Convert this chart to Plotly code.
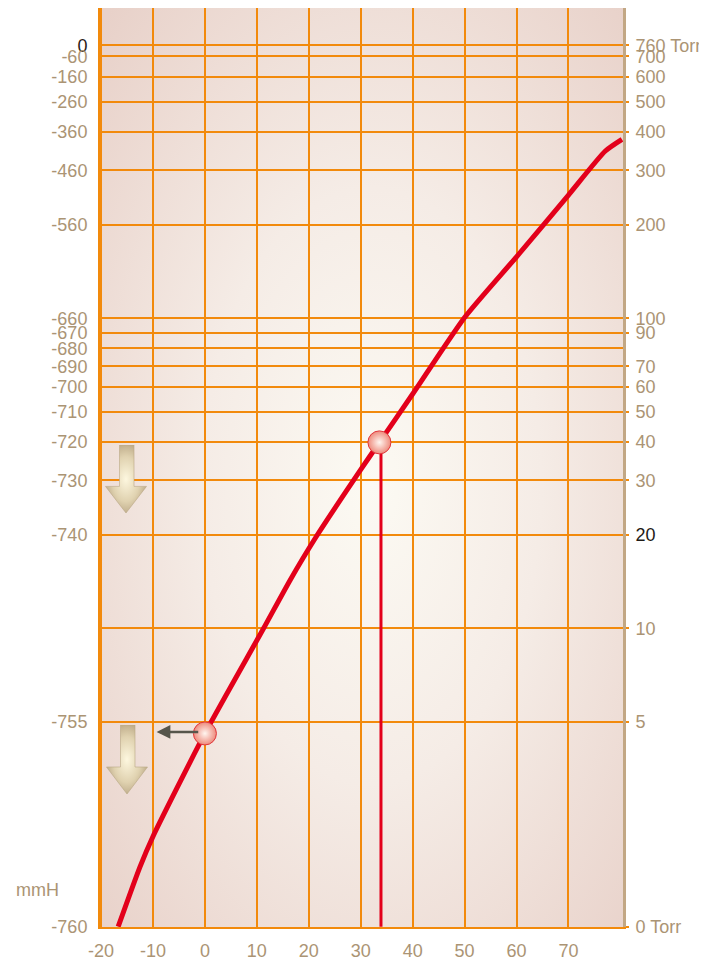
import base64
import math
import plotly.graph_objects as go

# ---------------- data ----------------
temp_c = [-16.7, -12.5, -10.0, 0.0, 11.2, 16.4, 21.3, 30.0, 33.6, 40.0,
          50.0, 60.0, 70.0, 77.1, 80.3]
pressure_torr = [1.09, 1.70, 2.13, 4.58, 9.93, 14.3, 19.6, 32.5, 39.8, 57.0,
                 100.7, 158.0, 250.0, 346.7, 378.0]

marker_temp = [0.0, 33.6]
marker_torr = [4.58, 39.8]

drop_temp = 33.9          # vertical red line down from the 40 Torr point
P_BOTTOM = 1.0888         # pressure value at the bottom edge ("0 Torr")
arrow_torr = 4.63         # small leftward arrow
arrow_from_temp = -1.0
arrow_to_temp = -9.3

x_tick_vals = [-20, -10, 0, 10, 20, 30, 40, 50, 60, 70]
x_tick_text = ["-20", "-10", "0", "10", "20", "30", "40", "50", "60", "70"]

left_tick_vals = [760, 700, 600, 500, 400, 300, 200, 100, 90, 80, 70, 60,
                  50, 40, 30, 20, 5, P_BOTTOM]
left_tick_text = ["<span style='color:#2a2118'>0</span>", "-60", "-160",
                  "-260", "-360", "-460", "-560", "-660", "-670", "-680",
                  "-690", "-700", "-710", "-720", "-730", "-740", "-755",
                  "-760"]

right_tick_vals = [760, 700, 600, 500, 400, 300, 200, 100, 90, 70, 60, 50,
                   40, 30, 20, 10, 5, P_BOTTOM]
right_tick_text = ["760 Torr", "700", "600", "500", "400", "300", "200",
                   "100", "90", "70", "60", "50", "40", "30",
                   "<span style='color:#1e1a16'>20</span>", "10", "5",
                   "0 Torr"]

# ---------------- styles ----------------
ORANGE = "#f28a0c"
TAN = "#ab9474"
RED = "#e3001b"
FONT = "Liberation Sans, Arial, sans-serif"
X_RANGE = [-20.2, 80.5]
Y_RANGE = [0.0364, 3.0013]   # log10 range

# page geometry (the page body adds an 8px offset)
PLOT_L, PLOT_T, PLOT_W, PLOT_H = 100, 8, 523, 919


def px_x(px):
    return (px - PLOT_L) / PLOT_W


def px_y(py):
    return (PLOT_T + PLOT_H - py) / PLOT_H


def svg_uri(svg):
    return "data:image/svg+xml;base64," + base64.b64encode(svg.encode()).decode()


bg_svg = (
    "<svg xmlns='http://www.w3.org/2000/svg' width='523' height='920' "
    "viewBox='0 0 100 100' preserveAspectRatio='none'>"
    "<defs><radialGradient id='g' cx='0.52' cy='0.52' r='0.72'>"
    "<stop offset='0' stop-color='#fcfaf3'/>"
    "<stop offset='0.45' stop-color='#f5ece6'/>"
    "<stop offset='1' stop-color='#e8d1c9'/>"
    "</radialGradient></defs>"
    "<rect x='0' y='0' width='100' height='100' fill='url(#g)'/></svg>"
)

arrow_svg = (
    "<svg xmlns='http://www.w3.org/2000/svg' width='42' height='70' "
    "viewBox='0 0 42 70' preserveAspectRatio='none'>"
    "<defs><radialGradient id='a' cx='0.5' cy='0.5' r='0.6'>"
    "<stop offset='0' stop-color='#fdf7df'/>"
    "<stop offset='0.55' stop-color='#e0d2b0'/>"
    "<stop offset='1' stop-color='#b09c7a'/>"
    "</radialGradient></defs>"
    "<path d='M14.5 0 H29 V42 H41.5 L21 69 L0.5 42 H14.5 Z' fill='url(#a)' "
    "stroke='#b9a785' stroke-width='0.6'/></svg>"
)

fig = go.Figure()

# vertical drop line
fig.add_trace(go.Scatter(
    x=[drop_temp, drop_temp], y=[marker_torr[1], P_BOTTOM],
    mode="lines", line=dict(color=RED, width=3), hoverinfo="skip",
    showlegend=False))

# vapour pressure curve
fig.add_trace(go.Scatter(
    x=temp_c, y=pressure_torr, mode="lines",
    line=dict(color=RED, width=5, shape="spline", smoothing=0.6),
    showlegend=False))

# points
fig.add_trace(go.Scatter(
    x=marker_temp, y=marker_torr, mode="markers",
    marker=dict(size=23, color="#ee8a7c",
                gradient=dict(type="radial", color="#fff6f0"),
                line=dict(color="#e0353a", width=1)),
    showlegend=False))

# ghost trace on right axis
fig.add_trace(go.Scatter(x=[None], y=[None], yaxis="y2", showlegend=False))

fig.add_annotation(
    x=arrow_to_temp, y=math.log10(arrow_torr),
    ax=arrow_from_temp, ay=math.log10(arrow_torr),
    xref="x", yref="y", axref="x", ayref="y",
    text="", showarrow=True, arrowhead=2, arrowsize=1.1, arrowwidth=2.5,
    arrowcolor="#56554b", standoff=0, startstandoff=0)

fig.add_annotation(
    x=px_x(37), y=px_y(890), xref="paper", yref="paper", text="mmH",
    showarrow=False, xanchor="center", yanchor="middle",
    font=dict(family=FONT, size=18, color=TAN))

images = [
    dict(source=svg_uri(bg_svg), xref="paper", yref="paper", x=0, y=1,
         sizex=1, sizey=1, sizing="stretch", xanchor="left", yanchor="top",
         layer="below"),
    dict(source=svg_uri(arrow_svg), xref="paper", yref="paper",
         x=px_x(105), y=px_y(445), sizex=42 / PLOT_W, sizey=69 / PLOT_H,
         sizing="stretch", xanchor="left", yanchor="top", layer="above"),
    dict(source=svg_uri(arrow_svg), xref="paper", yref="paper",
         x=px_x(106), y=px_y(725), sizex=42 / PLOT_W, sizey=70 / PLOT_H,
         sizing="stretch", xanchor="left", yanchor="top", layer="above"),
]

tickfont = dict(family=FONT, size=18, color=TAN)

fig.update_layout(
    width=699, height=952,
    margin=dict(l=PLOT_L - 8, r=699 - (PLOT_L - 8) - PLOT_W, t=0,
                b=952 - PLOT_H, pad=0),
    paper_bgcolor="white", plot_bgcolor="rgba(0,0,0,0)",
    images=images,
    showlegend=False,
    xaxis=dict(range=X_RANGE, tickmode="array", tickvals=x_tick_vals,
               ticktext=x_tick_text, showgrid=True, gridcolor=ORANGE,
               gridwidth=2, zeroline=False, showline=True, linecolor=ORANGE,
               linewidth=2, mirror=True, ticks="", tickfont=tickfont,
               ticklabelstandoff=6, automargin=False),
    yaxis=dict(type="log", range=Y_RANGE, tickmode="array",
               tickvals=left_tick_vals, ticktext=left_tick_text,
               showgrid=True, gridcolor=ORANGE, gridwidth=2, zeroline=False,
               showline=True, linecolor=ORANGE, linewidth=2, ticks="",
               tickfont=tickfont, ticklabelstandoff=7, automargin=False),
    yaxis2=dict(type="log", range=Y_RANGE, overlaying="y", side="right",
                tickmode="array", tickvals=right_tick_vals,
                ticktext=right_tick_text, showgrid=True, gridcolor=ORANGE,
                gridwidth=2, zeroline=False, showline=True, linecolor="#c2a784",
                linewidth=3, ticks="outside", ticklen=3, tickwidth=2,
                tickcolor=ORANGE, tickfont=tickfont, ticklabelstandoff=3,
                automargin=False),
)

fig.write_html("out.html")
